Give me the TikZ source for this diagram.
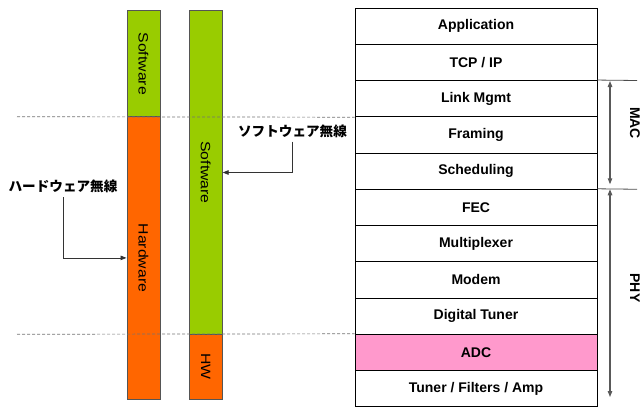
\documentclass[tikz,border=0pt]{standalone}
\usepackage{graphicx}
\usepackage{fontspec}
\setmainfont{Liberation Sans}
\newfontfamily\jpfont{Noto Sans CJK JP}
\usetikzlibrary{arrows.meta}
\definecolor{swgreen}{HTML}{99CC00}
\definecolor{hworange}{HTML}{FF6600}
\definecolor{adcpink}{HTML}{FF99CC}
\definecolor{bargray}{HTML}{555555}
\tikzset{
	layer/.style={draw=black, line width=0.9pt, minimum width=242pt, minimum height=36.25pt, inner sep=0pt, font=\fontsize{14}{16}\selectfont\bfseries},
	bar/.style={draw=bargray, line width=0.9pt, minimum width=33pt, inner sep=0pt},
	bartext/.style={rotate=-90, inner sep=0pt, font=\fontsize{13.5}{15}\selectfont},
	jplabel/.style={inner sep=0pt, font=\jpfont\bfseries\fontsize{13.6}{15}\selectfont},
	sidelabel/.style={rotate=-90, inner sep=0pt, font=\fontsize{14}{16}\selectfont\bfseries},
	callout/.style={draw=black!80, line width=0.8pt, ->},
	boundary/.style={draw=black!55, dash pattern=on 3pt off 2pt, line width=0.7pt},
	span/.style={draw=black!65, line width=1.1pt, <->},
}
\begin{document}
\begin{tikzpicture}[x=1pt, y=-1pt, >={Triangle[length=6pt, width=4.5pt]}]
		\useasboundingbox (0,0) rectangle (642,407);
		% protocol stack
		\node[layer] (app) at (476,26.125) {Application};
		\node[layer] (tcp) at (476,62.375) {TCP / IP};
		\node[layer] (link) at (476,98.625) {Link Mgmt};
		\node[layer] (framing) at (476,134.875) {Framing};
		\node[layer] (sched) at (476,171.125) {Scheduling};
		\node[layer] (fec) at (476,207.375) {FEC};
		\node[layer] (mux) at (476,243.625) {Multiplexer};
		\node[layer] (modem) at (476,279.875) {Modem};
		\node[layer] (dtuner) at (476,316.125) {Digital Tuner};
		\node[layer, fill=adcpink] (adc) at (476,352.375) {ADC};
		\node[layer] (rf) at (476,388.625) {Tuner / Filters / Amp};
		% MAC / PHY spans
		\coordinate (macend) at (637,80.5);
		\coordinate (phyend) at (637,189.25);
		\draw[draw=black!70, line width=0.8pt] (link.north east) -- (macend);
		\draw[draw=black!70, line width=0.8pt] (fec.north east) -- (phyend);
		\coordinate (mactop) at (610,81);
		\coordinate (macbot) at (610,189.25);
		\coordinate (phybot) at (610,397);
		\draw[span, shorten >=5pt] (mactop) -- (macbot);
		\draw[span] (macbot) -- (phybot);
		\node[sidelabel] (maclabel) at (635,123) {MAC};
		\node[sidelabel] (phylabel) at (635,288) {PHY};
		% hardware radio bar
		\node[bar, fill=swgreen, minimum height=106pt, label={[bartext]center:\scalebox{1.17}[1]{Software}}] (bar1sw) at (143.5,63.7) {};
		\node[bar, fill=hworange, minimum height=282.25pt, label={[bartext]center:\scalebox{1.17}[1]{Hardware}}] (bar1hw) at (143.5,257.9) {};
		% software radio bar
		\node[bar, fill=swgreen, minimum height=323.5pt, label={[bartext]center:\scalebox{1.17}[1]{Software}}] (bar2sw) at (205.7,172.5) {};
		\node[bar, fill=hworange, minimum height=64.75pt, label={[bartext]center:\scalebox{1.17}[1]{HW}}] (bar2hw) at (205.7,366.6) {};
		% callouts
		\node[jplabel] (swlabel) at (292.5,131) {ソフトウェア無線};
		\node[jplabel] (hwlabel) at (63,186.5) {ハードウェア無線};
		\draw[callout, shorten <=4pt] (swlabel.south) |- (bar2sw.east);
		\draw[callout, shorten <=4pt] (hwlabel.south) |- (bar1hw.west);
		% boundaries
		\coordinate (dash1) at (17,116.75);
		\coordinate (dash2) at (17,334.25);
		\draw[boundary] (dash1) -- (link.south west);
		\draw[boundary] (dash2) -- (adc.north west);
	\end{tikzpicture}
\end{document}
